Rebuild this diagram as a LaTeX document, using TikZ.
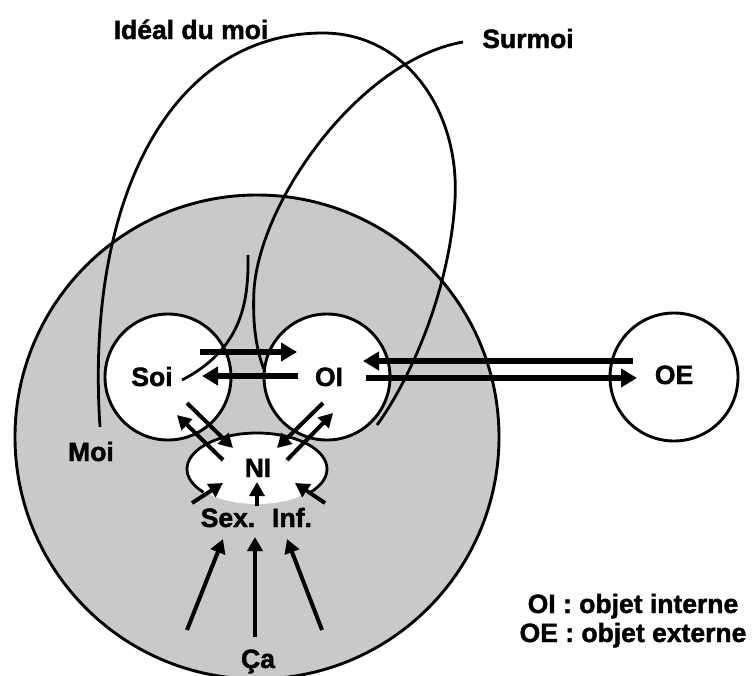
\documentclass[tikz,border=0pt]{standalone}
\usepackage{fontspec}
\setmainfont{Liberation Sans}[BoldFeatures={FakeBold=1.6}]
\usetikzlibrary{arrows.meta}
\definecolor{bggray}{RGB}{201,201,201}
\begin{document}
\begin{tikzpicture}[x=1pt,y=-1pt,
  ring/.style={draw, line width=2.9pt, inner sep=0pt},
  curveline/.style={line width=2.8pt},
  bigarrow/.style={line width=5.5pt, -{Triangle[length=16pt,width=18pt]}},
  midarrow/.style={line width=4pt, -{Triangle[length=14pt,width=15pt]}},
  lab/.style={font=\fontsize{26.5}{26.5}\selectfont\bfseries, inner sep=0pt, anchor=base},
]
\useasboundingbox (0,0) rectangle (755,675);
% circles
\node[circle, ring, fill=bggray, minimum size=484pt] (moic) at (257,437) {};
\node[circle, ring, fill=white, minimum size=126pt] (soic) at (168,377) {};
\node[circle, ring, fill=white, minimum size=126pt] (oic) at (327,377) {};
\node[circle, ring, fill=white, minimum size=128pt] (oec) at (674,377) {};
\fill[white] (257,469) ellipse [x radius=69, y radius=35];
\draw[curveline] ([shift={(40:70 and 36)}]257,469) arc[start angle=40, end angle=-220, x radius=70, y radius=36];
% curves
\draw[curveline] (100,427) .. controls (85,200) and (170,33) .. (323,33)
  .. controls (405,33) and (460,110) .. (455,200)
  .. controls (450,290) and (410,380) .. (377,425);
\draw[curveline] (463,42) .. controls (360,60) and (260,200) .. (254,290)
  .. controls (252,330) and (258,355) .. (265,372);
\draw[curveline] (248,255) .. controls (249,305) and (240,350) .. (182,380);
% arrow end points
\coordinate (a1s) at (200,352); \coordinate (a1e) at (297,352);
\coordinate (a2s) at (298,376); \coordinate (a2e) at (202,376);
\coordinate (a3s) at (633,361); \coordinate (a3e) at (363,361);
\coordinate (a4s) at (366,378); \coordinate (a4e) at (637,378);
\coordinate (d1s) at (187,403); \coordinate (d1e) at (233,448);
\coordinate (d2s) at (223,460); \coordinate (d2e) at (177,415);
\coordinate (d3s) at (323,403); \coordinate (d3e) at (277,448);
\coordinate (d4s) at (287,460); \coordinate (d4e) at (333,413);
\coordinate (b1s) at (192,503); \coordinate (b1e) at (223,483);
\coordinate (b2s) at (257,506); \coordinate (b2e) at (257,482);
\coordinate (b3s) at (325,503); \coordinate (b3e) at (295,483);
\coordinate (c1s) at (187,630); \coordinate (c1e) at (223,539);
\coordinate (c2s) at (255,637); \coordinate (c2e) at (255,537);
\coordinate (c3s) at (322,630); \coordinate (c3e) at (287,539);
% arrows
\draw[bigarrow] (a1s) -- (a1e);
\draw[bigarrow] (a2s) -- (a2e);
\draw[bigarrow] (a3s) -- (a3e);
\draw[bigarrow] (a4s) -- (a4e);
\foreach \p in {d1,d2,d3,d4,b1,b2,b3,c1,c2,c3} {\draw[midarrow] (\p s) -- (\p e);}
% labels
\node[lab] (ideal) at (191,39) {Idéal du moi};
\node[lab] (surmoi) at (528,48) {Surmoi};
\node[lab] (soi) at (152,386) {Soi};
\node[lab] (oi) at (329,386) {OI};
\node[lab] (oe) at (674,384) {OE};
\node[lab] (ni) at (258,477) {NI};
\node[lab] (moi) at (91,461) {Moi};
\node[lab] (sex) at (228,527) {Sex.};
\node[lab] (inf) at (292,527) {Inf.};
\node[lab] (ca) at (258,668) {Ça};
\node[lab] (leg1) at (633,613) {OI : objet interne};
\node[lab] (leg2) at (633,642) {OE : objet externe};
\end{tikzpicture}
\end{document}
